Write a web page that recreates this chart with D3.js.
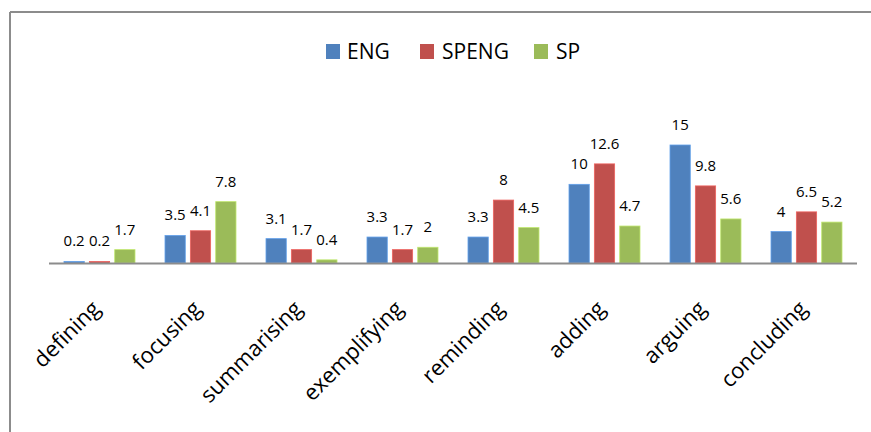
<!DOCTYPE html>
<html>
<head>
<meta charset="utf-8">
<script src="https://cdn.jsdelivr.net/npm/d3@7"></script>
<style>
  html, body { margin: 0; padding: 0; background: #fff; }
  svg { display: block; }
</style>
</head>
<body>
<svg id="chart" width="871" height="432"></svg>
<script>
const categories = ["defining", "focusing", "summarising", "exemplifying", "reminding", "adding", "arguing", "concluding"];
const seriesNames = ["ENG", "SPENG", "SP"];
const engValues   = [0.2, 3.5, 3.1, 3.3, 3.3, 10, 15, 4];
const spengValues = [0.2, 4.1, 1.7, 1.7, 8, 12.6, 9.8, 6.5];
const spValues    = [1.7, 7.8, 0.4, 2, 4.5, 4.7, 5.6, 5.2];
const colors = ["#4F81BD", "#C0504D", "#9BBB59"];

const series = [engValues, spengValues, spValues];
const svg = d3.select("#chart");
const font = "'Open Sans', sans-serif";

// outer frame (top and left edges visible)
svg.append("line").attr("x1", 10).attr("y1", 12).attr("x2", 871).attr("y2", 12)
  .attr("stroke", "#8c8c8c").attr("stroke-width", 2);
svg.append("line").attr("x1", 10).attr("y1", 12).attr("x2", 10).attr("y2", 432)
  .attr("stroke", "#8c8c8c").attr("stroke-width", 2);

const x0 = d3.scaleBand().domain(categories).range([49, 857]).paddingInner(0).paddingOuter(0);
const x1 = d3.scaleBand().domain(seriesNames).range([15, 86]).paddingInner(0.2);
const y = d3.scaleLinear().domain([0, 15]).range([263, 145]);

const groups = svg.append("g").selectAll("g")
  .data(categories).join("g")
  .attr("transform", d => `translate(${x0(d)},0)`);

groups.each(function(cat, ci) {
  const g = d3.select(this);
  seriesNames.forEach((s, si) => {
    const v = series[si][ci];
    g.append("rect")
      .attr("x", x1(s)).attr("width", x1.bandwidth())
      .attr("y", y(v)).attr("height", y(0) - y(v))
      .attr("fill", colors[si])
      .attr("stroke", d3.color(colors[si]).brighter(0.6)).attr("stroke-width", 0.8);
    g.append("text")
      .attr("x", x1(s) + x1.bandwidth() / 2)
      .attr("y", y(v) - 15)
      .attr("text-anchor", "middle")
      .attr("font-family", font).attr("font-size", 15).attr("fill", "#000")
      .text(v);
  });
});

// axis baseline
svg.append("line").attr("x1", 49).attr("x2", 857).attr("y1", y(0) + 0.5).attr("y2", y(0) + 0.5)
  .attr("stroke", "#8c8c8c").attr("stroke-width", 2);

// category labels
svg.append("g").selectAll("text").data(categories).join("text")
  .attr("transform", d => `translate(${x0(d) + x0.bandwidth() / 2 + 2},${310}) rotate(-45)`)
  .attr("text-anchor", "end")
  .attr("font-family", font).attr("font-size", 22).attr("fill", "#000")
  .text(d => d);

// legend
const legendItems = [
  { name: "ENG", sx: 326, tx: 347 },
  { name: "SPENG", sx: 420, tx: 442 },
  { name: "SP", sx: 534, tx: 556 }
];
const leg = svg.append("g");
legendItems.forEach((it, i) => {
  leg.append("rect").attr("x", it.sx).attr("y", 44).attr("width", 14).attr("height", 15).attr("fill", colors[i]);
  leg.append("text").attr("x", it.tx).attr("y", 59)
    .attr("font-family", font).attr("font-size", 21).attr("fill", "#000")
    .text(seriesNames[i]);
});
</script>
</body>
</html>
